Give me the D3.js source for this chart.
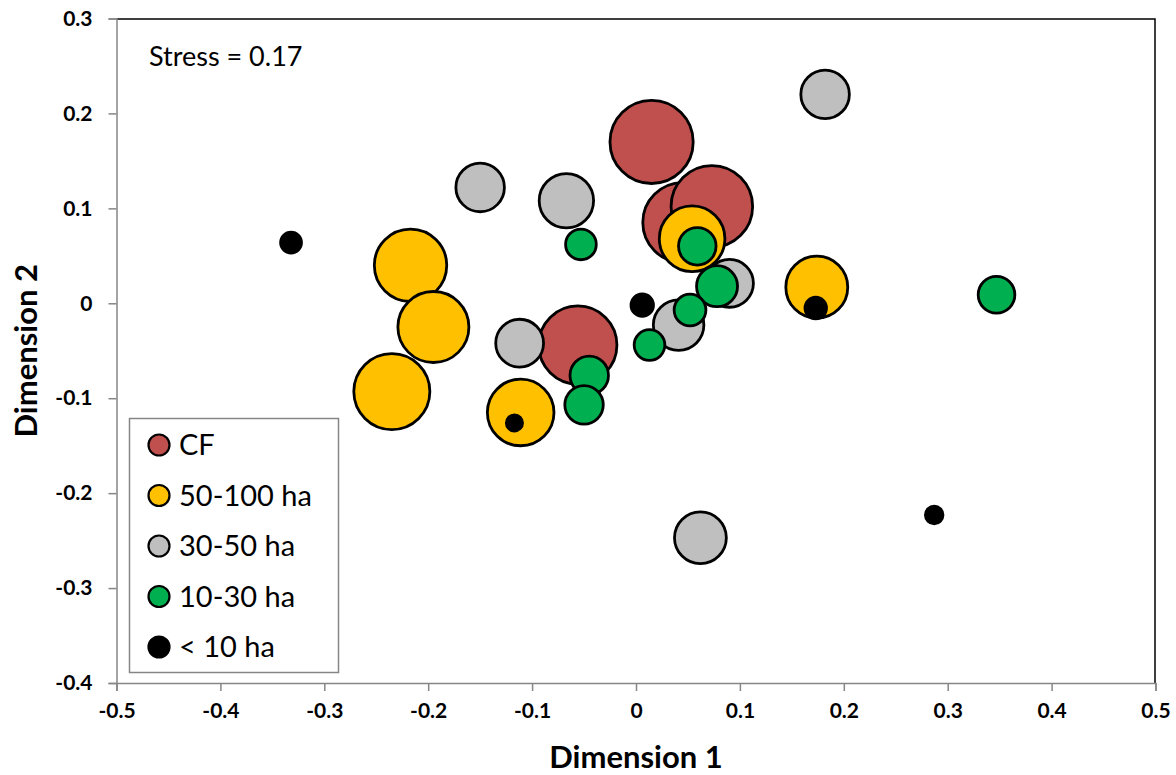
<!DOCTYPE html>
<html>
<head>
<meta charset="utf-8">
<script src="https://cdn.jsdelivr.net/npm/d3@7"></script>
<style>
    body { margin: 0; background: #fff; }
    text { font-family: Lato, "Open Sans", sans-serif; }
</style>
</head>
<body>
<svg id="chart" width="1176" height="775"></svg>
<script>
// groups, in drawing order (later groups sit on top)
var groupNames = ['CF', '50-100 ha', '30-50 ha', '10-30 ha', '< 10 ha'];
var groupColours = ['#C0504D', '#FFC000', '#BFBFBF', '#00B050', '#000000'];

// NMDS coordinates and bubble sizes
var cfX = [0.015, 0.045, 0.073, -0.056];
var cfY = [0.170, 0.085, 0.102, -0.044];
var cfSize = [103, 95, 99, 91];

var bigX = [-0.217, -0.195, -0.235, -0.111, 0.054, 0.174];
var bigY = [0.040, -0.025, -0.093, -0.115, 0.068, 0.017];
var bigSize = [78, 75, 86, 66, 64, 57];

var midX = [-0.150, -0.067, 0.182, -0.112, 0.090, 0.041, 0.062];
var midY = [0.122, 0.108, 0.220, -0.042, 0.021, -0.023, -0.247];
var midSize = [35, 44, 35, 34, 34, 38, 40];

var smallX = [-0.053, 0.059, 0.078, 0.052, 0.013, -0.045, -0.050, 0.347];
var smallY = [0.062, 0.060, 0.018, -0.007, -0.044, -0.076, -0.107, 0.009];
var smallSize = [14, 21, 25, 15, 14, 22, 22, 20];

var tinyX = [-0.332, 0.006, 0.173, -0.117, 0.287];
var tinyY = [0.064, -0.002, -0.005, -0.126, -0.223];
var tinySize = [6.5, 7.5, 6.9, 3.9, 4.6];

var xTicks = [-0.5, -0.4, -0.3, -0.2, -0.1, 0, 0.1, 0.2, 0.3, 0.4, 0.5];
var yTicks = [0.3, 0.2, 0.1, 0, -0.1, -0.2, -0.3, -0.4];
var stressLabel = 'Stress = 0.17';

(function () {
    var svg = d3.select('#chart');
    var margin = {top: 18.5, left: 116.5},
        width = 1039,
        height = 664.5;

    var xScale = d3.scaleLinear().domain([-0.5, 0.5]).range([0, width]);
    var yScale = d3.scaleLinear().domain([-0.4, 0.3]).range([height, 0]);
    var rScale = d3.scaleSqrt().domain([0, 100]).range([0, 41]);

    var g = svg.append('g').attr('transform', 'translate(' + margin.left + ',' + margin.top + ')');

    function fmt(d) {
        return d === 0 ? '0' : d.toFixed(1);
    }

    // top and right frame
    g.append('path')
        .attr('d', 'M0,0.5H' + (width - 0.5) + 'V' + height)
        .attr('fill', 'none')
        .attr('stroke', '#000')
        .attr('stroke-width', 1.5);

    var xAxis = g.append('g')
        .attr('transform', 'translate(0,' + height + ')')
        .call(d3.axisBottom(xScale).tickValues(xTicks).tickFormat(fmt).tickSize(8).tickPadding(12));
    var yAxis = g.append('g')
        .call(d3.axisLeft(yScale).tickValues(yTicks).tickFormat(fmt).tickSize(8).tickPadding(16));

    [xAxis, yAxis].forEach(function (a) {
        a.select('.domain').attr('stroke', '#868686').attr('stroke-width', 1.5);
        a.selectAll('.tick line').attr('stroke', '#868686').attr('stroke-width', 1.5);
        a.selectAll('.tick text')
            .attr('fill', '#000')
            .style('font-size', '21px')
            .style('font-weight', 'bold');
    });

    svg.append('text')
        .attr('x', margin.left + width / 2)
        .attr('y', 768)
        .attr('text-anchor', 'middle')
        .style('font-size', '31px')
        .style('font-weight', 'bold')
        .text('Dimension 1');

    svg.append('text')
        .attr('transform', 'translate(37,' + (margin.top + height / 2) + ') rotate(-90)')
        .attr('text-anchor', 'middle')
        .style('font-size', '31px')
        .style('font-weight', 'bold')
        .text('Dimension 2');

    svg.append('text')
        .attr('x', 149)
        .attr('y', 66)
        .style('font-size', '27px')
        .text(stressLabel);

    var groups = [
        {x: cfX, y: cfY, s: cfSize},
        {x: bigX, y: bigY, s: bigSize},
        {x: midX, y: midY, s: midSize},
        {x: smallX, y: smallY, s: smallSize},
        {x: tinyX, y: tinyY, s: tinySize}
    ];

    groups.forEach(function (grp, gi) {
        var pts = grp.x.map(function (v, i) {
            return {x: v, y: grp.y[i], s: grp.s[i]};
        });
        g.append('g').selectAll('circle')
            .data(pts)
            .enter().append('circle')
            .attr('cx', function (d) { return xScale(d.x); })
            .attr('cy', function (d) { return yScale(d.y); })
            .attr('r', function (d) { return rScale(d.s); })
            .attr('fill', groupColours[gi])
            .attr('stroke', '#000')
            .attr('stroke-width', 2.8);
    });

    // legend box, bottom left inside the plot
    var legend = svg.append('g').attr('transform', 'translate(129,418)');
    legend.append('rect')
        .attr('x', 0.5).attr('y', 0.5)
        .attr('width', 209).attr('height', 254)
        .attr('fill', '#fff')
        .attr('stroke', '#868686')
        .attr('stroke-width', 1.5);

    var item = legend.selectAll('.item')
        .data(groupNames)
        .enter().append('g')
        .attr('transform', function (d, i) { return 'translate(0,' + (27 + i * 50.5) + ')'; });
    item.append('circle')
        .attr('cx', 30)
        .attr('r', 10.5)
        .attr('fill', function (d, i) { return groupColours[i]; })
        .attr('stroke', '#000')
        .attr('stroke-width', 2.2);
    item.append('text')
        .attr('x', 50)
        .attr('dy', '0.36em')
        .style('font-size', '29px')
        .text(function (d) { return d; });
}());
</script>
</body>
</html>
